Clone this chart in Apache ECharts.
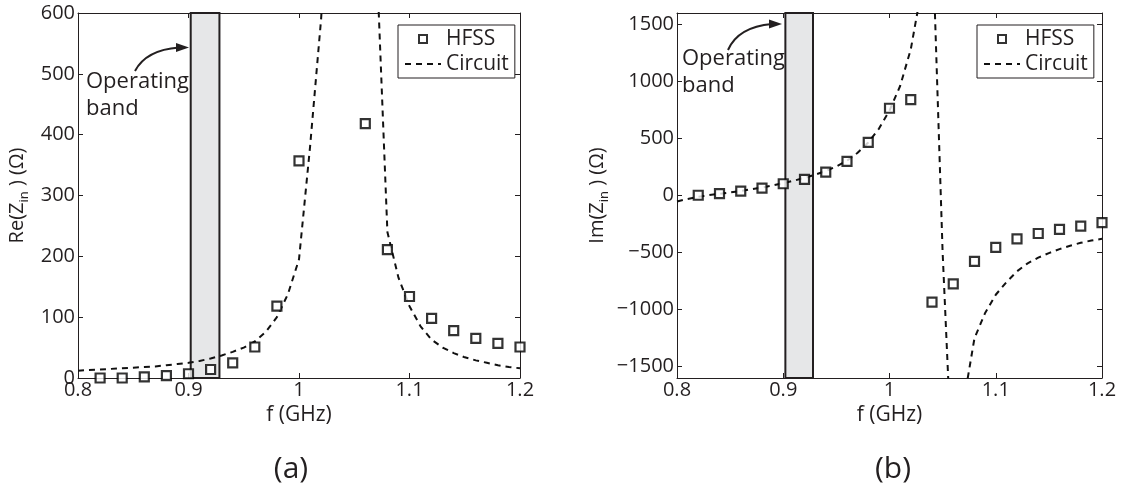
<!DOCTYPE html>
<html>
<head>
<meta charset="utf-8">
<script src="https://cdn.jsdelivr.net/npm/echarts@6/dist/echarts.min.js"></script>
<style>
html,body{margin:0;padding:0;background:#fff}
#main{width:1123px;height:494px}
</style>
</head>
<body>
<div id="main"></div>
<script>
// 数据 (a) 实部  (b) 虚部
var freqHFSS_a = [0.82,0.84,0.86,0.88,0.90,0.92,0.94,0.96,0.98,1.00,1.06,1.08,1.10,1.12,1.14,1.16,1.18,1.20]
var reHFSS = [0,0,2,4,7,14,25,51,118,357,418,211,134,98,78,65,57,51]
var freqHFSS_b = [0.82,0.84,0.86,0.88,0.90,0.92,0.94,0.96,0.98,1.00,1.02,1.04,1.06,1.08,1.10,1.12,1.14,1.16,1.18,1.20]
var imHFSS = [2,17,38,65,103,142,205,299,465,765,840,-935,-775,-578,-455,-380,-333,-297,-268,-238]
var freqCircuit = [0.80,0.81,0.82,0.83,0.84,0.85,0.86,0.87,0.88,0.89,
                   0.90,0.91,0.92,0.93,0.94,0.95,0.96,0.97,0.98,0.99,
                   1.00,1.01,1.02,1.03,1.04,1.05,1.06,1.07,1.08,1.09,
                   1.10,1.11,1.12,1.13,1.14,1.15,1.16,1.17,1.18,1.19,1.20]
var reCircuit = [12,13,14,15,16,17,18,19,21,23,
                 25,28,32,37,43,50,60,76,100,138,
                 195,380,590,900,1300,1300,900,700,240,165,
                 118,85,63,50,41,34,29,25,21,18,16]
var imCircuit = [-52,-30,-12,3,15,27,40,54,70,88,
                 108,130,155,183,215,255,305,375,465,585,
                 745,960,1280,1800,2400,-500,-2600,-1800,-1250,-1030,
                 -870,-760,-665,-595,-545,-505,-470,-440,-415,-395,-380]
var bandRange = [0.902, 0.928]   // 工作频带
var freqTicks = [0.8, 0.9, 1.0, 1.1, 1.2]
var reTicks = [0, 100, 200, 300, 400, 500, 600]
var imTicks = [-1500, -1000, -500, 0, 500, 1000, 1500]

var ink = '#231f20'
var fontName = 'Open Sans'

function pairs(xs, ys){
	var arr = []
	for(var i=0;i<xs.length;i++){
		arr.push([xs[i], ys[i]])
	}
	return arr
}

function xAx(grid, pos){
	return {
		type:'value', gridIndex:grid, position:pos,
		min:freqTicks[0], max:freqTicks[freqTicks.length-1], interval:0.1,
		axisLine:{show:true, onZero:false, lineStyle:{color:ink, width:1}},
		axisTick:{show:true, inside:true, length:5, lineStyle:{color:ink}},
		axisLabel:{show:pos=='bottom', color:ink, fontSize:20, fontFamily:fontName, margin:2},
		splitLine:{show:false},
		name: pos=='bottom' ? 'f (GHz)' : '',
		nameLocation:'middle', nameGap:25,
		nameTextStyle:{color:ink, fontSize:21, fontFamily:fontName}
	}
}

function yAx(grid, pos, ticks, name, gap){
	return {
		type:'value', gridIndex:grid, position:pos,
		min: grid==0 ? 0 : -1600, max: grid==0 ? 600 : 1600,
		axisLine:{show:true, onZero:false, lineStyle:{color:ink, width:1}},
		axisTick:{show:true, inside:true, length:5, customValues:ticks, lineStyle:{color:ink}},
		axisLabel:{
			show:pos=='left', customValues:ticks, color:ink, fontSize:20, fontFamily:fontName, margin:3,
			formatter:function(v){ return String(v).replace('-', '\u2212') }
		},
		splitLine:{show:false},
		name: pos=='left' ? name : '',
		nameLocation:'middle', nameGap:gap,
		nameTextStyle:{
			color:ink, fontFamily:fontName,
			rich:{
				t:{fontSize:20, lineHeight:28, color:ink, fontFamily:fontName},
				s:{fontSize:13, lineHeight:8, verticalAlign:'bottom', color:ink, fontFamily:fontName}
			}
		}
	}
}

// 每个grid: xAxis 2个, yAxis 2个
function bandSeries(grid){
	return {
		type:'line', xAxisIndex:grid*2, yAxisIndex:grid*2, data:[], z:1, silent:true,
		markArea:{
			silent:true,
			itemStyle:{color:'#e6e7e8', borderColor:ink, borderWidth:2},
			data:[[{xAxis:bandRange[0]}, {xAxis:bandRange[1]}]]
		}
	}
}

function hfss(grid, xs, ys){
	return {
		name:'HFSS', type:'scatter', xAxisIndex:grid*2, yAxisIndex:grid*2, z:4,
		symbol:'rect', symbolSize:9,
		itemStyle:{color:'#fff', borderColor:'#000', borderWidth:2.2},
		data:pairs(xs, ys)
	}
}

function circuit(grid, ys){
	return {
		name:'Circuit', type:'line', xAxisIndex:grid*2, yAxisIndex:grid*2, z:3,
		symbol:'none', clip:true,
		itemStyle:{color:'rgba(0,0,0,0)'},   // 图例里不要圆点
		lineStyle:{color:'#111', width:2, type:[6,5]},
		data:pairs(freqCircuit, ys)
	}
}

function legendAt(left){
	return {
		left:left, top:25, orient:'vertical',
		data:[{name:'HFSS', icon:'path://M0,0H10V10H0Z'}, 'Circuit'],
		itemWidth:36, itemHeight:8, itemGap:1,
		padding:[2,6,2,6],
		borderColor:ink, borderWidth:1, backgroundColor:'#fff',
		textStyle:{color:ink, fontSize:21, lineHeight:24, fontFamily:fontName}
	}
}

function note(x, y){
	return {
		type:'text', x:x, y:y, z:10,
		style:{text:'Operating\nband', fill:ink, fontSize:22, lineHeight:27, fontFamily:fontName, verticalAlign:'top'}
	}
}

function arrow(x1, y1, cx, cy, x2, y2){
	return [
		{type:'bezierCurve', z:10, shape:{x1:x1, y1:y1, cpx1:cx, cpy1:cy, x2:x2-10, y2:y2}, style:{stroke:ink, lineWidth:2, fill:null}},
		{type:'polygon', z:10, shape:{points:[[x2,y2],[x2-13,y2-4.5],[x2-13,y2+4.5]]}, style:{fill:ink}}
	]
}

var myChart = echarts.init(document.getElementById('main'))
var option = {
	backgroundColor:'#fff',
	animation:false,
	grid:[
		{left:78, top:13, width:442, height:365},
		{left:677, top:13, width:425, height:365}
	],
	xAxis:[xAx(0,'bottom'), xAx(0,'top'), xAx(1,'bottom'), xAx(1,'top')],
	yAxis:[
		yAx(0,'left', reTicks, '{t|Re(Z}{s|in}{t| ) (\u03a9)}', 47),
		yAx(0,'right', reTicks, '', 0),
		yAx(1,'left', imTicks, '{t|Im(Z}{s|in}{t| ) (\u03a9)}', 66),
		yAx(1,'right', imTicks, '', 0)
	],
	legend:[legendAt(398), legendAt(977)],
	series:[
		bandSeries(0), circuit(0, reCircuit), hfss(0, freqHFSS_a, reHFSS),
		bandSeries(1), circuit(1, imCircuit), hfss(1, freqHFSS_b, imHFSS)
	],
	graphic:[
		note(86, 68), note(682, 45)
	].concat(arrow(135, 71, 146, 50, 189, 47.5))
	 .concat(arrow(728, 50, 738, 27, 782, 24))
	 .concat([
		{type:'text', x:291, y:469, style:{text:'(a)', fill:ink, fontSize:30, fontFamily:fontName, align:'center', verticalAlign:'middle'}},
		{type:'text', x:893, y:469, style:{text:'(b)', fill:ink, fontSize:30, fontFamily:fontName, align:'center', verticalAlign:'middle'}}
	 ])
}
myChart.setOption(option)
</script>
</body>
</html>
